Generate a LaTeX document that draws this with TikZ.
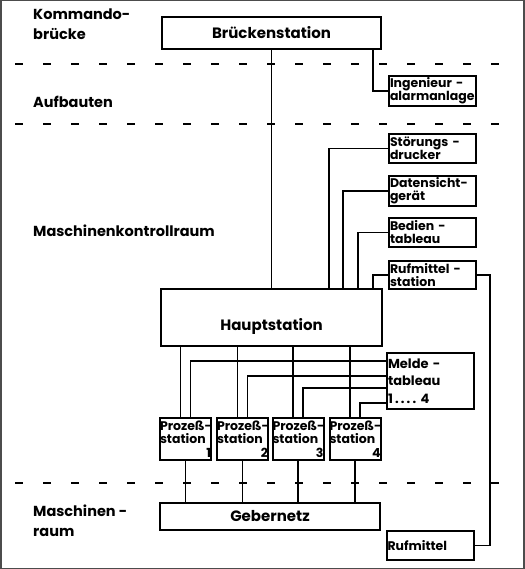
\documentclass[tikz,border=0pt]{standalone}
\usepackage{fontspec}
\setmainfont{Poppins}
\usetikzlibrary{positioning,calc}

\begin{document}
\begin{tikzpicture}[x=1pt, y=-1pt,
        station/.style={rectangle, draw=black, line width=2pt, inner sep=0pt, font=\bfseries\fontsize{15}{17}\selectfont},
        unit/.style={rectangle, draw=black, line width=2pt, inner xsep=1pt, inner ysep=1pt, minimum width=87pt, text width=85pt, align=left, font=\bfseries\fontsize{12.5}{13}\selectfont},
        prozess/.style={rectangle, draw=black, line width=2pt, inner xsep=0pt, inner ysep=0pt, minimum width=51pt, minimum height=42pt, text width=51pt, align=left, font=\bfseries\fontsize{12.5}{13.5}\selectfont},
        zone/.style={anchor=west, align=left, inner sep=0pt, font=\bfseries\fontsize{14.5}{20}\selectfont},
        boundary/.style={line width=1.4pt, dash pattern=on 8pt off 20pt},
        wire/.style={line width=1.8pt},
      ]
      \useasboundingbox (0,0) rectangle (524,569);
      \draw [line width=3pt, black!70] (0,0) rectangle (524,569);
      % Bereiche
      \node [zone] (kommando) at (33,24) {Kommando-\\brücke};
      \node [zone] (aufbauten) at (33,102) {Aufbauten};
      \node [zone] (kontroll) at (33,231) {Maschinenkontrollraum};
      \node [zone] (maschraum) at (33,521) {Maschinen -\\raum};
      \draw [boundary] (15,64) -- (510,64);
      \draw [boundary] (15,124) -- (510,124);
      \draw [boundary] (15,483) -- (510,483);
      % Stationen
      \node [station, minimum width=219pt, minimum height=32pt] (bruecke) at (271.5,33) {Brückenstation};
      \node [station, minimum width=221pt, minimum height=57pt, text height=25pt, text depth=0pt] (haupt) at (271.5,317.5) {Hauptstation};
      \node [station, minimum width=220pt, minimum height=27pt] (geber) at (270,516.5) {Gebernetz};
      \node [unit, minimum height=30pt] (ingen) at (432.5,91) {Ingenieur -\\alarmanlage};
      \node [unit, minimum height=29pt] (stoer) at (432.5,148.5) {Störungs -\\drucker};
      \node [unit, minimum height=30pt] (daten) at (432.5,191) {Datensicht-\\gerät};
      \node [unit, minimum height=29pt] (bedien) at (432.5,232.5) {Bedien -\\tableau};
      \node [unit, minimum height=28pt] (rufst) at (432.5,275) {Rufmittel -\\station};
      \node [unit, minimum height=56pt, font=\bfseries\fontsize{13}{17.5}\selectfont] (melde) at (430.5,381) {Melde -\\tableau\\1\,.\,.\,.\,.\ 4};
      \node [unit, minimum width=86pt, minimum height=29pt] (ruf) at (430,545.5) {Rufmittel};
      \node [prozess] (p1) at (185.5,439) {\mbox{Prozeß-}\\station\\\makebox[\linewidth][r]{1}};
      \node [prozess] (p2) at (242.5,439) {\mbox{Prozeß-}\\station\\\makebox[\linewidth][r]{2}};
      \node [prozess] (p3) at (298,439) {\mbox{Prozeß-}\\station\\\makebox[\linewidth][r]{3}};
      \node [prozess] (p4) at (355,439) {\mbox{Prozeß-}\\station\\\makebox[\linewidth][r]{4}};
      % Verbindungen
      \draw [wire] (bruecke.south) -- (haupt.north);
      \draw [wire] ([xshift=-9pt]bruecke.south east) |- (ingen.west);
      \draw [wire] (stoer.west) -| ($(haupt.north)+(57.5,0)$);
      \draw [wire] (daten.west) -| ($(haupt.north)+(71.5,0)$);
      \draw [wire] (bedien.west) -| ($(haupt.north)+(86.5,0)$);
      \draw [wire] (rufst.west) -| ($(haupt.north)+(101.5,0)$);
      \draw [wire] (rufst.east) -- ++(13,0) |- (ruf.east);
      \foreach \i/\dy in {1/-20, 2/-5, 3/7, 4/22} {
        \draw [wire] ($(haupt.south -| p\i.north)+(-5,0)$) -- ($(p\i.north)+(-5,0)$);
        \draw [wire] ($(melde.west)+(0,\dy)$) -| ($(p\i.north)+(5,0)$);
        \draw [wire] (p\i.south) -- (p\i.south |- geber.north);
      }
    \end{tikzpicture}
\end{document}
